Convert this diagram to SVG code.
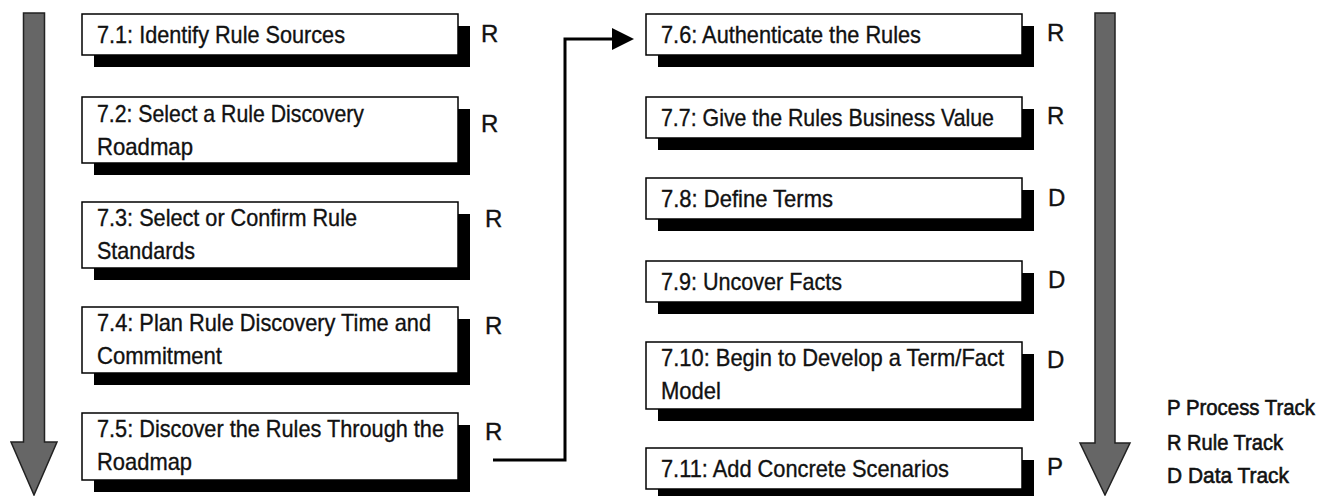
<svg xmlns="http://www.w3.org/2000/svg" width="1331" height="496" viewBox="0 0 1331 496">
  <style>
    .box { fill: #fff; stroke: #000; stroke-width: 1.5; }
    .shadow { fill: #000; }
    .lbl { font-family: "Liberation Sans", Arial, sans-serif; font-size: 24px; fill: #111; stroke: #111; stroke-width: 0.35; }
    .key { font-size: 22px; stroke-width: 0.6; }
    .flow { fill: #666; stroke: #222; stroke-width: 1.5; stroke-linejoin: miter; }
    .conn { fill: none; stroke: #000; stroke-width: 3; }
  </style>
  <defs>
    <marker id="arrowhead" markerUnits="userSpaceOnUse" viewBox="0 0 22 22" refX="0" refY="11" markerWidth="22" markerHeight="22" orient="auto">
      <path d="M0,0 L22,11 L0,22 Z" fill="#000"/>
    </marker>
  </defs>

  <rect width="1331" height="496" fill="#fff"/>

  <!-- big downward flow arrows -->
  <g id="flow-left">
    <path class="flow" d="M23.5,13 H44.5 V442 H57 L34,495 L11,442 H23.5 Z"/>
  </g>
  <g id="flow-right">
    <path class="flow" d="M1095,13 H1115 V443 H1130 L1105,495 L1080,443 H1095 Z"/>
  </g>

  <!-- connector from 7.5 to 7.6 -->
  <g id="connectors">
    <path class="conn" d="M493,460 H565 V39 H612" marker-end="url(#arrowhead)"/>
  </g>

  <!-- left column -->
  <g id="step-7-1">
    <rect class="shadow" x="94" y="26" width="376" height="41"/>
    <rect class="box" x="82" y="14" width="376" height="41"/>
    <text class="lbl" x="97" y="43" textLength="248" lengthAdjust="spacingAndGlyphs">7.1: Identify Rule Sources</text>
    <text class="lbl" x="481" y="42">R</text>
  </g>
  <g id="step-7-2">
    <rect class="shadow" x="94" y="109" width="376" height="66"/>
    <rect class="box" x="82" y="97" width="376" height="66"/>
    <text class="lbl" x="97" y="122" textLength="267" lengthAdjust="spacingAndGlyphs">7.2: Select a Rule Discovery</text>
    <text class="lbl" x="97" y="155" textLength="96" lengthAdjust="spacingAndGlyphs">Roadmap</text>
    <text class="lbl" x="481" y="132">R</text>
  </g>
  <g id="step-7-3">
    <rect class="shadow" x="94" y="214" width="376" height="66"/>
    <rect class="box" x="82" y="202" width="376" height="66"/>
    <text class="lbl" x="97" y="226" textLength="260" lengthAdjust="spacingAndGlyphs">7.3: Select or Confirm Rule</text>
    <text class="lbl" x="97" y="259" textLength="98" lengthAdjust="spacingAndGlyphs">Standards</text>
    <text class="lbl" x="485" y="227">R</text>
  </g>
  <g id="step-7-4">
    <rect class="shadow" x="94" y="319" width="376" height="66"/>
    <rect class="box" x="82" y="307" width="376" height="66"/>
    <text class="lbl" x="97" y="331" textLength="334" lengthAdjust="spacingAndGlyphs">7.4: Plan Rule Discovery Time and</text>
    <text class="lbl" x="97" y="364" textLength="125" lengthAdjust="spacingAndGlyphs">Commitment</text>
    <text class="lbl" x="485" y="334">R</text>
  </g>
  <g id="step-7-5">
    <rect class="shadow" x="94" y="425" width="376" height="67"/>
    <rect class="box" x="82" y="413" width="376" height="67"/>
    <text class="lbl" x="97" y="437" textLength="347" lengthAdjust="spacingAndGlyphs">7.5: Discover the Rules Through the</text>
    <text class="lbl" x="97" y="470" textLength="95" lengthAdjust="spacingAndGlyphs">Roadmap</text>
    <text class="lbl" x="485" y="440">R</text>
  </g>

  <!-- right column -->
  <g id="step-7-6">
    <rect class="shadow" x="658" y="26" width="376" height="41"/>
    <rect class="box" x="646" y="14" width="376" height="41"/>
    <text class="lbl" x="661" y="43" textLength="260" lengthAdjust="spacingAndGlyphs">7.6: Authenticate the Rules</text>
    <text class="lbl" x="1047" y="41">R</text>
  </g>
  <g id="step-7-7">
    <rect class="shadow" x="658" y="109" width="376" height="41"/>
    <rect class="box" x="646" y="97" width="376" height="41"/>
    <text class="lbl" x="661" y="126" textLength="333" lengthAdjust="spacingAndGlyphs">7.7: Give the Rules Business Value</text>
    <text class="lbl" x="1047" y="124">R</text>
  </g>
  <g id="step-7-8">
    <rect class="shadow" x="658" y="190" width="376" height="41"/>
    <rect class="box" x="646" y="178" width="376" height="41"/>
    <text class="lbl" x="661" y="207" textLength="172" lengthAdjust="spacingAndGlyphs">7.8: Define Terms</text>
    <text class="lbl" x="1048" y="206">D</text>
  </g>
  <g id="step-7-9">
    <rect class="shadow" x="658" y="273" width="376" height="41"/>
    <rect class="box" x="646" y="261" width="376" height="41"/>
    <text class="lbl" x="661" y="290" textLength="181" lengthAdjust="spacingAndGlyphs">7.9: Uncover Facts</text>
    <text class="lbl" x="1048" y="288">D</text>
  </g>
  <g id="step-7-10">
    <rect class="shadow" x="658" y="354" width="376" height="67"/>
    <rect class="box" x="646" y="342" width="376" height="67"/>
    <text class="lbl" x="661" y="366" textLength="343" lengthAdjust="spacingAndGlyphs">7.10: Begin to Develop a Term/Fact</text>
    <text class="lbl" x="661" y="399" textLength="60" lengthAdjust="spacingAndGlyphs">Model</text>
    <text class="lbl" x="1047" y="368">D</text>
  </g>
  <g id="step-7-11">
    <rect class="shadow" x="658" y="460" width="376" height="41"/>
    <rect class="box" x="646" y="448" width="376" height="41"/>
    <text class="lbl" x="661" y="477" textLength="288" lengthAdjust="spacingAndGlyphs">7.11: Add Concrete Scenarios</text>
    <text class="lbl" x="1047" y="475">P</text>
  </g>

  <!-- track legend -->
  <g id="legend">
    <text class="lbl key" x="1167" y="415" textLength="148" lengthAdjust="spacingAndGlyphs">P Process Track</text>
    <text class="lbl key" x="1167" y="450" textLength="116" lengthAdjust="spacingAndGlyphs">R Rule Track</text>
    <text class="lbl key" x="1167" y="483" textLength="122" lengthAdjust="spacingAndGlyphs">D Data Track</text>
  </g>
</svg>
